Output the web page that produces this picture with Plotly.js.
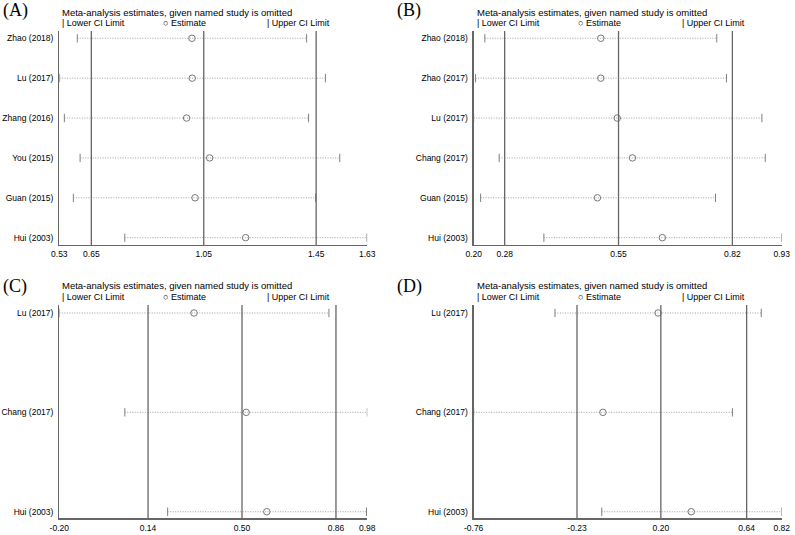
<!DOCTYPE html>
<html>
<head>
<meta charset="utf-8">
<script src="https://cdn.plot.ly/plotly-3.0.1.min.js"></script>
<style>
  html, body { margin: 0; padding: 0; background: #fff; }
  #chart { width: 795px; height: 535px; }
</style>
</head>
<body>
<div id="chart"></div>
<script>
// ---- data ----
// (A)
var studiesA = ['Zhao (2018)', 'Lu (2017)', 'Zhang (2016)', 'You (2015)', 'Guan (2015)', 'Hui (2003)'];
var lowerA = [0.600, 0.537, 0.554, 0.610, 0.586, 0.769];
var estA   = [1.008, 1.009, 0.989, 1.071, 1.019, 1.199];
var upperA = [1.416, 1.483, 1.423, 1.534, 1.448, 1.631];
var overallA = [0.65, 1.05, 1.45];
var tickValsA = [0.536, 0.65, 1.05, 1.45, 1.632];
var tickTextA = ['0.53', '0.65', '1.05', '1.45', '1.63'];

// (B)
var studiesB = ['Zhao (2018)', 'Zhao (2017)', 'Lu (2017)', 'Chang (2017)', 'Guan (2015)', 'Hui (2003)'];
var lowerB = [0.233, 0.211, 0.2065, 0.267, 0.223, 0.373];
var estB   = [0.508, 0.508, 0.547, 0.583, 0.500, 0.654];
var upperB = [0.783, 0.806, 0.890, 0.898, 0.780, 0.937];
var overallB = [0.28, 0.55, 0.82];
var tickValsB = [0.2065, 0.28, 0.55, 0.82, 0.937];
var tickTextB = ['0.20', '0.28', '0.55', '0.82', '0.93'];

// (C)
var studiesC = ['Lu (2017)', 'Chang (2017)', 'Hui (2003)'];
var lowerC = [-0.20, 0.051, 0.215];
var estC   = [0.316, 0.516, 0.595];
var upperC = [0.833, 0.980, 0.977];
var overallC = [0.14, 0.50, 0.86];
var tickValsC = [-0.20, 0.14, 0.50, 0.86, 0.98];
var tickTextC = ['-0.20', '0.14', '0.50', '0.86', '0.98'];

// (D)
var studiesD = ['Lu (2017)', 'Chang (2017)', 'Hui (2003)'];
var lowerD = [-0.343, -0.76, -0.103];
var estD   = [0.186, -0.097, 0.356];
var upperD = [0.715, 0.567, 0.820];
var overallD = [-0.23, 0.20, 0.64];
var tickValsD = [-0.76, -0.23, 0.20, 0.64, 0.82];
var tickTextD = ['-0.76', '-0.23', '0.20', '0.64', '0.82'];

var SANS = 'Liberation Sans, Arial, sans-serif';
var SERIF = 'Liberation Serif, Times New Roman, serif';

var traces = [];
var shapes = [];
var layout = {
  width: 795, height: 535,
  margin: {l: 0, r: 0, t: 0, b: 0},
  paper_bgcolor: '#fff', plot_bgcolor: '#fff',
  showlegend: false,
  font: {family: SANS, size: 8.5, color: '#000'},
  annotations: []
};

function addPanel(n, names, lo, est, up, overall, tv, tt, xdom, ydom, yrange) {
  var xa = 'x' + (n === 1 ? '' : n), ya = 'y' + (n === 1 ? '' : n);

  // dotted CI line
  var lx = [], ly = [];
  for (var i = 0; i < names.length; i++) {
    lx.push(lo[i], up[i], null);
    ly.push(names[i], names[i], null);
  }
  traces.push({x: lx, y: ly, xaxis: xa, yaxis: ya, mode: 'lines',
    line: {color: '#a0a0a0', width: 1, dash: '1px,1.5px'}, hoverinfo: 'skip'});
  // CI end bars
  var bar = {symbol: 'line-ns-open', size: 6, color: '#808080', line: {color: '#808080', width: 1}};
  traces.push({x: lo, y: names, xaxis: xa, yaxis: ya, mode: 'markers', marker: bar});
  traces.push({x: up, y: names, xaxis: xa, yaxis: ya, mode: 'markers', marker: bar});
  // estimates
  traces.push({x: est, y: names, xaxis: xa, yaxis: ya, mode: 'markers',
    marker: {symbol: 'circle-open', size: 6.5, color: '#777', line: {color: '#777', width: 1}}});

  // overall estimate and CI
  overall.forEach(function (v) {
    shapes.push({type: 'line', xref: xa, yref: ya + ' domain', x0: v, x1: v, y0: 0, y1: 1,
      line: {color: '#666', width: 1.3}});
  });

  var key = n === 1 ? '' : n;
  layout['xaxis' + key] = {
    domain: xdom, anchor: ya, range: [tv[0], tv[tv.length - 1]],
    tickmode: 'array', tickvals: tv, ticktext: tt,
    showgrid: false, zeroline: false, showline: true, linecolor: '#666', linewidth: 1.2,
    ticks: 'outside', ticklen: 1, tickcolor: 'rgba(0,0,0,0)',
    tickfont: {family: SANS, size: 8.5, color: '#000'}
  };
  layout['yaxis' + key] = {
    domain: ydom, anchor: xa, type: 'category', range: yrange,
    categoryorder: 'array', categoryarray: names,
    showgrid: false, zeroline: false, showline: true, linecolor: '#666', linewidth: 1.2,
    ticks: 'outside', ticklen: 3, tickcolor: 'rgba(0,0,0,0)',
    tickfont: {family: SANS, size: 8.5, color: '#000'}
  };
}

var leftDom = [0.0746, 0.4620], rightDom = [0.5958, 0.9833];
var topDom = [0.5421, 0.9421], botDom = [0.0312, 0.4299];

addPanel(1, studiesA, lowerA, estA, upperA, overallA, tickValsA, tickTextA, leftDom, topDom, [5.183, -0.183]);
addPanel(2, studiesB, lowerB, estB, upperB, overallB, tickValsB, tickTextB, rightDom, topDom, [5.183, -0.183]);
addPanel(3, studiesC, lowerC, estC, upperC, overallC, tickValsC, tickTextC, leftDom, botDom, [2.066, -0.08]);
addPanel(4, studiesD, lowerD, estD, upperD, overallD, tickValsD, tickTextD, rightDom, botDom, [2.066, -0.08]);

layout.shapes = shapes;

// headers: panel letter, title, legend row (pixel positions)
function px(x) { return x / 795; }
function py(y) { return 1 - y / 535; }
function note(text, x, y, size, family) {
  layout.annotations.push({text: text, xref: 'paper', yref: 'paper', x: px(x), y: py(y),
    xanchor: 'left', yanchor: 'middle', showarrow: false, borderpad: 0,
    font: {family: family || SANS, size: size || 9, color: '#000'}});
}
var headers = [
  {label: '(A)', lx: 2, ly: 10.5, x: 61, ty: 12.3, gy: 23},
  {label: '(B)', lx: 396, ly: 10.5, x: 475.5, ty: 12.3, gy: 23},
  {label: '(C)', lx: 2, ly: 286, x: 61, ty: 285.7, gy: 297},
  {label: '(D)', lx: 396, ly: 286, x: 475.5, ty: 285.7, gy: 297}
];
headers.forEach(function (h) {
  note(h.label, h.lx, h.ly, 18, SERIF);
  note('Meta-analysis estimates, given named study is omitted', h.x, h.ty, 9.5);
  note('| Lower CI Limit', h.x, h.gy, 9);
  note('○ Estimate', h.x + 101, h.gy, 9);
  note('| Upper CI Limit', h.x + 205, h.gy, 9);
});

Plotly.newPlot('chart', traces, layout, {staticPlot: true, displayModeBar: false});
</script>
</body>
</html>
